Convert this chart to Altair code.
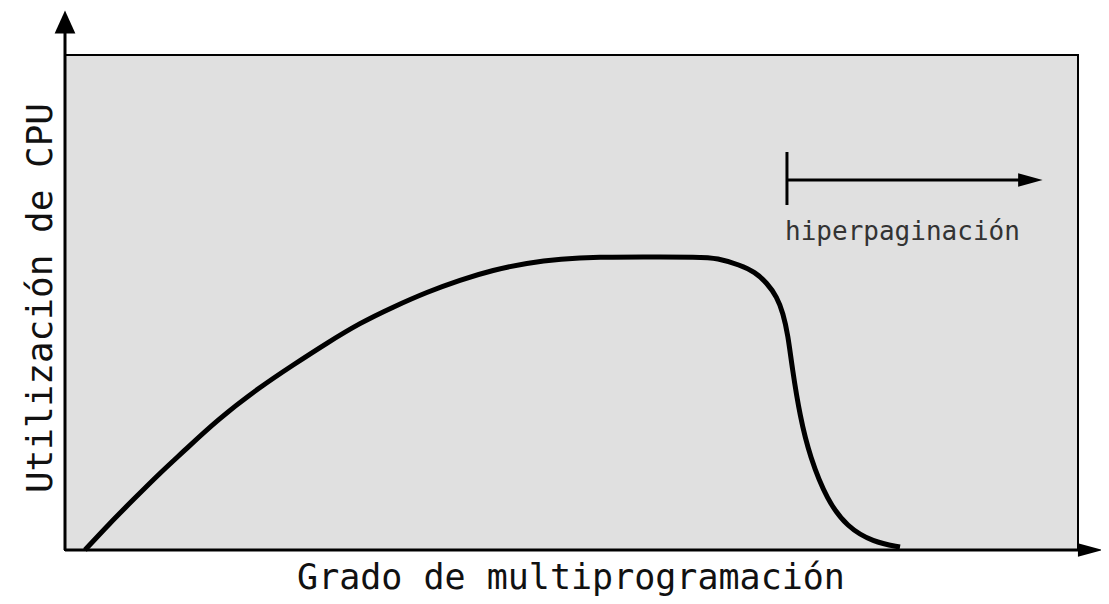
import altair as alt
import pandas as pd

# Curve: CPU utilisation vs degree of multiprogramming (data units 0-100)
curve_x = [1.97, 4.44, 6.71, 9.38, 11.65, 15.00, 19.25, 22.51, 25.86, 29.12, 32.38,
           35.74, 38.99, 42.25, 45.61, 48.86, 52.81, 56.76, 62.69, 64.36, 66.63,
           68.11, 69.30, 70.29, 70.88, 71.37, 71.77, 72.56, 73.54, 75.22, 77.20,
           79.76, 82.43]
curve_y = [0.0, 5.45, 10.10, 15.56, 19.80, 26.26, 32.93, 37.37, 41.82, 45.86, 49.09,
           52.12, 54.55, 56.57, 57.98, 58.79, 59.19, 59.19, 59.19, 58.99, 57.58,
           56.16, 53.94, 51.11, 47.88, 43.43, 36.97, 26.87, 18.79, 10.10, 4.65,
           1.62, 0.6]

# Axis lines (extending beyond the frame) and the thrashing marker
seg_x = [0.0, 0.0, 71.27, 71.27]
seg_y = [0.0, 0.0, 69.70, 74.75]
seg_x2 = [0.0, 100.69, 71.27, 94.8]
seg_y2 = [105.05, 0.0, 80.40, 74.75]

# Arrowheads
up_x = [0.0]
up_y = [106.67]
right_x = [95.3, 101.2]
right_y = [74.75, 0.0]

# Texts
lbl_text = ["Grado de multiprogramación", "hiperpaginación"]
lbl_x = [49.95, 71.08]
lbl_y = [-7.88, 62.63]
ylab_text = ["Utilización de CPU"]
ylab_x = [-1.28]
ylab_y = [50.9]

xs = alt.Scale(domain=[0, 100], nice=False, zero=False)
ys = alt.Scale(domain=[0, 100], nice=False, zero=False)
FONT = "DejaVu Sans Mono"

curve = alt.Chart(pd.DataFrame({"x": curve_x, "y": curve_y})).mark_line(
    color="black", strokeWidth=5, interpolate="basis"
).encode(x=alt.X("x:Q", scale=xs, axis=None), y=alt.Y("y:Q", scale=ys, axis=None))

segs = alt.Chart(pd.DataFrame({"x": seg_x, "y": seg_y, "x2": seg_x2, "y2": seg_y2})).mark_rule(
    color="black", strokeWidth=3
).encode(x=alt.X("x:Q", scale=xs, axis=None), y=alt.Y("y:Q", scale=ys, axis=None),
         x2="x2:Q", y2="y2:Q")

up_head = alt.Chart(pd.DataFrame({"x": up_x, "y": up_y})).mark_point(
    shape="M0,-1L0.9,1L-0.9,1Z", size=530, filled=True, color="black", opacity=1
).encode(x=alt.X("x:Q", scale=xs, axis=None), y=alt.Y("y:Q", scale=ys, axis=None))

right_head = alt.Chart(pd.DataFrame({"x": right_x, "y": right_y})).mark_point(
    shape="M-1,-0.55L1,0L-1,0.55Z", size=600, filled=True, color="black", opacity=1
).encode(x=alt.X("x:Q", scale=xs, axis=None), y=alt.Y("y:Q", scale=ys, axis=None))

big_label = alt.Chart(pd.DataFrame({"x": lbl_x[:1], "y": lbl_y[:1], "t": lbl_text[:1]})).mark_text(
    font=FONT, fontSize=35, color="#111111", align="center", baseline="alphabetic"
).encode(x=alt.X("x:Q", scale=xs, axis=None), y=alt.Y("y:Q", scale=ys, axis=None), text="t:N")

small_label = alt.Chart(pd.DataFrame({"x": lbl_x[1:], "y": lbl_y[1:], "t": lbl_text[1:]})).mark_text(
    font=FONT, fontSize=26, color="#333333", align="left", baseline="alphabetic"
).encode(x=alt.X("x:Q", scale=xs, axis=None), y=alt.Y("y:Q", scale=ys, axis=None), text="t:N")

y_label = alt.Chart(pd.DataFrame({"x": ylab_x, "y": ylab_y, "t": ylab_text})).mark_text(
    font=FONT, fontSize=36, color="#111111", align="center", baseline="alphabetic", angle=270
).encode(x=alt.X("x:Q", scale=xs, axis=None), y=alt.Y("y:Q", scale=ys, axis=None), text="t:N")

chart = alt.layer(curve, segs, up_head, right_head, big_label, small_label, y_label).properties(
    width=1013, height=495,
    autosize=alt.AutoSizeParams(type="none"),
    padding={"left": 57, "top": 47, "right": 23, "bottom": 46},
    background="white",
).configure_view(fill="#e0e0e0", stroke="black", strokeWidth=2)

chart.save("out.html", embed_options={"renderer": "svg", "actions": False})
